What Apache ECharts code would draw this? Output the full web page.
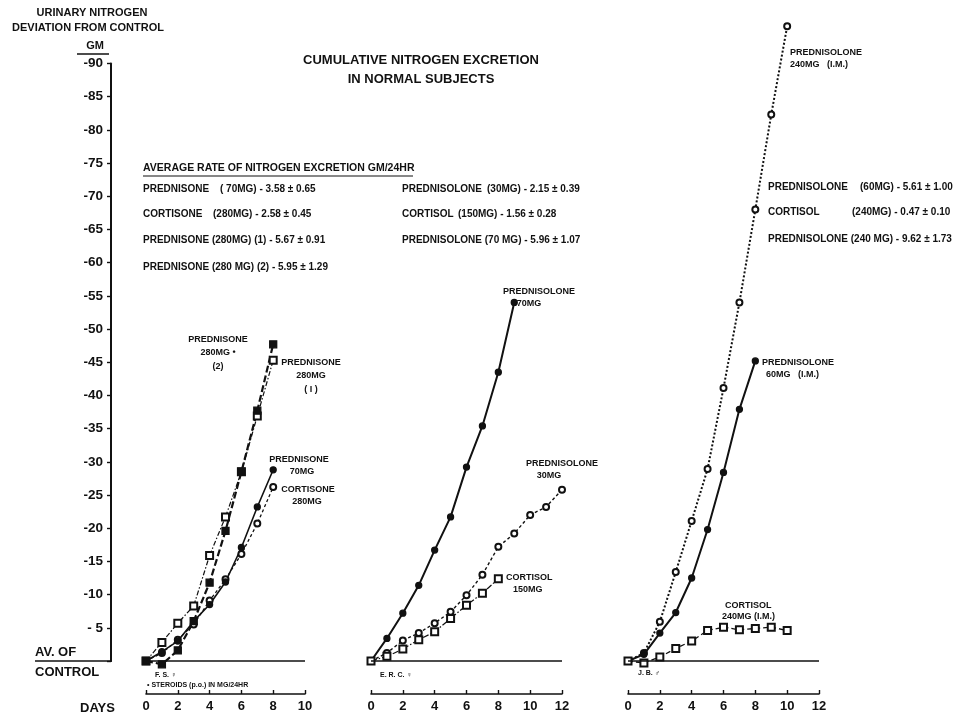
<!DOCTYPE html>
<html>
<head>
<meta charset="utf-8">
<script src="https://cdn.jsdelivr.net/npm/echarts@6/dist/echarts.min.js"></script>
<style>
html,body{margin:0;padding:0;background:#fff;}
#chart{width:967px;height:719px;}
</style>
</head>
<body>
<div id="chart"></div>
<script>
// ---------- DATA ----------
// y-axis ticks (GM deviation from control)
const yTicks = [0,-5,-10,-15,-20,-25,-30,-35,-40,-45,-50,-55,-60,-65,-70,-75,-80,-85,-90];
// x-axis tick labels (days)
const daysTicks1 = [0,2,4,6,8,10];
const daysTicks2 = [0,2,4,6,8,10,12];

// Panel 1 (F.S. female)
const days1 = [0,1,2,3,4,5,6,7,8];
const prednisone280_2 = [0, 0.5, -1.6, -6.0, -11.8, -19.6, -28.5, -37.7, -47.7];
const prednisone280_1 = [0, -2.8, -5.7, -8.3, -15.9, -21.7, -28.5, -36.9, -45.3];
const prednisone70   = [0, -1.4, -3.0, -6.0, -8.5, -11.9, -17.1, -23.2, -28.8];
const cortisone280   = [0, -1.2, -3.2, -5.5, -9.1, -12.3, -16.1, -20.7, -26.2];

// Panel 2 (E.R.C. female)
const days2a = [0,1,2,3,4,5,6,7,8,9];
const prednisolone70 = [0, -3.4, -7.2, -11.4, -16.7, -21.7, -29.2, -35.4, -43.5, -54.0];
const days2b = [0,1,2,3,4,5,6,7,8,9,10,11,12];
const prednisolone30 = [0, -1.2, -3.1, -4.2, -5.7, -7.4, -9.9, -13.0, -17.2, -19.2, -22.0, -23.2, -25.8];
const days2c = [0,1,2,3,4,5,6,7,8];
const cortisol150 = [0, -0.7, -1.8, -3.2, -4.4, -6.4, -8.4, -10.2, -12.4];

// Panel 3 (J.B. male)
const days3a = [0,1,2,3,4,5,6,7,8,9,10];
const prednisolone240 = [0, -1.2, -5.9, -13.4, -21.1, -28.9, -41.1, -54.0, -68.0, -82.3, -95.6];
const days3b = [0,1,2,3,4,5,6,7,8];
const prednisolone60 = [0, -1.0, -4.2, -7.3, -12.5, -19.8, -28.4, -37.9, -45.2];
const days3c = [0,1,2,3,4,5,6,7,8,9,10];
const cortisol240 = [0, 0.3, -0.6, -1.9, -3.0, -4.6, -5.1, -4.7, -4.9, -5.1, -4.6];

// ---------- CHART ----------
const INK = '#111';
const FONT = 'Liberation Sans';
const pairs = (xs, ys) => xs.map((x, i) => [x, ys[i]]);

const chart = echarts.init(document.getElementById('chart'), null, {renderer: 'canvas'});

const PANEL_TOP = 23.6, BOTTOM = 58;
const grids = [
  {left: 111, width: 20, top: 63.4, bottom: BOTTOM},
  {left: 146, width: 159, top: PANEL_TOP, bottom: BOTTOM},
  {left: 371, width: 191, top: PANEL_TOP, bottom: BOTTOM},
  {left: 628, width: 191, top: PANEL_TOP, bottom: BOTTOM}
];

function panelX(idx, max) {
  return {
    type: 'value', gridIndex: idx, min: 0, max: max, interval: 2,
    position: 'bottom', offset: 33,
    axisLine: {show: true, onZero: false, lineStyle: {color: INK, width: 1.6}},
    axisTick: {show: true, inside: true, length: 4, lineStyle: {color: INK, width: 1.4}},
    axisLabel: {color: INK, fontFamily: FONT, fontWeight: 'bold', fontSize: 13, margin: 6,
      formatter: v => String(v)},
    splitLine: {show: false}
  };
}
function panelY(idx) {
  return {type: 'value', gridIndex: idx, min: -96, max: 0, inverse: true, show: false,
    axisLine: {show: false}, splitLine: {show: false}};
}

const xAxis = [
  {type: 'value', gridIndex: 0, min: 0, max: 1, show: false},
  panelX(1, daysTicks1[daysTicks1.length - 1]),
  panelX(2, daysTicks2[daysTicks2.length - 1]),
  panelX(3, daysTicks2[daysTicks2.length - 1])
];
const yAxis = [
  {type: 'value', gridIndex: 0, min: yTicks[yTicks.length - 1], max: yTicks[0], interval: 5,
   inverse: true, position: 'left',
   axisLine: {show: true, onZero: false, lineStyle: {color: INK, width: 2}},
   axisTick: {show: true, length: 4, lineStyle: {color: INK, width: 1.4}},
   axisLabel: {color: INK, fontFamily: FONT, fontWeight: 'bold', fontSize: 13.5, margin: 8,
     formatter: v => v === 0 ? '' : (v > -10 ? '- ' + (-v) : String(v))},
   splitLine: {show: false}},
  panelY(1), panelY(2), panelY(3)
];

function ser(idx, xs, ys, symbol, size, lineType, width, extra) {
  const s = {
    type: 'line', xAxisIndex: idx, yAxisIndex: idx,
    data: pairs(xs, ys), symbol: symbol, symbolSize: size, smooth: false,
    showAllSymbol: true, clip: false, z: 3,
    lineStyle: {color: INK, width: width, type: lineType},
    itemStyle: {color: INK, borderColor: INK, borderWidth: 1.3},
    emphasis: {disabled: true}, animation: false
  };
  return Object.assign(s, extra || {});
}
const baseLine = {
  markLine: {silent: true, symbol: 'none', label: {show: false},
    lineStyle: {color: INK, width: 1.6, type: 'solid'}, data: [{yAxis: 0}]}
};

const series = [
  // dummy for y-axis grid
  {type: 'line', xAxisIndex: 0, yAxisIndex: 0, data: [], silent: true},
  // panel 1
  ser(1, days1, cortisone280, 'emptyCircle', 6, [3, 2.5], 1.3, baseLine),
  ser(1, days1, prednisone70, 'circle', 6, 'solid', 1.6),
  ser(1, days1, prednisone280_1, 'emptyRect', 7, [5, 2, 1.5, 2], 1.2),
  ser(1, days1, prednisone280_2, 'rect', 7, [7, 3], 2.2),
  // panel 2
  ser(2, days2a, prednisolone70, 'circle', 6, 'solid', 2, baseLine),
  ser(2, days2b, prednisolone30, 'emptyCircle', 6, [3, 2.5], 1.4),
  ser(2, days2c, cortisol150, 'emptyRect', 7, [6, 2, 1.5, 2], 1.2),
  // panel 3
  ser(3, days3a, prednisolone240, 'emptyCircle', 6, [2, 2], 2, baseLine),
  ser(3, days3b, prednisolone60, 'circle', 6, 'solid', 2),
  ser(3, days3c, cortisol240, 'emptyRect', 7, [5, 3], 1.3)
];

function txt(x, y, text, opt) {
  opt = opt || {};
  return {type: 'text', x: x, y: y, silent: true, z: 10,
    style: {text: text, fill: INK, fontFamily: FONT, fontWeight: 'bold',
      fontSize: opt.size || 10, align: opt.align || 'left', verticalAlign: 'middle',
      lineHeight: opt.lh || 12}};
}
function hline(x1, x2, y, w) {
  return {type: 'line', silent: true, z: 10,
    shape: {x1: x1, y1: y, x2: x2, y2: y}, style: {stroke: INK, lineWidth: w || 1.4}};
}

const graphic = [
  // y-axis title
  txt(92, 13, 'URINARY NITROGEN', {size: 11, align: 'center'}),
  txt(88, 28, 'DEVIATION FROM CONTROL', {size: 11, align: 'center'}),
  txt(95, 46, 'GM', {size: 11, align: 'center'}),
  hline(77, 109, 54, 1.5),
  // zero label
  txt(35, 652, 'AV. OF', {size: 13}),
  hline(35, 112, 661, 1.6),
  txt(35, 672, 'CONTROL', {size: 13}),
  txt(80, 708, 'DAYS', {size: 13}),
  // main title
  txt(421, 60, 'CUMULATIVE NITROGEN EXCRETION', {size: 13, align: 'center'}),
  txt(421, 79, 'IN NORMAL SUBJECTS', {size: 13, align: 'center'}),
  // averages table
  txt(143, 168, 'AVERAGE RATE OF NITROGEN EXCRETION GM/24HR', {size: 10.5}),
  hline(143, 413, 176, 1.2),
  txt(143, 189, 'PREDNISONE'), txt(220, 189, '( 70MG) - 3.58 ± 0.65'),
  txt(143, 214, 'CORTISONE'), txt(213, 214, '(280MG) - 2.58 ± 0.45'),
  txt(143, 240, 'PREDNISONE (280MG) (1) - 5.67 ± 0.91'),
  txt(143, 267, 'PREDNISONE (280 MG) (2) - 5.95 ± 1.29'),
  txt(402, 189, 'PREDNISOLONE'), txt(487, 189, '(30MG) - 2.15 ± 0.39'),
  txt(402, 214, 'CORTISOL'), txt(458, 214, '(150MG) - 1.56 ± 0.28'),
  txt(402, 240, 'PREDNISOLONE (70 MG) - 5.96 ± 1.07'),
  txt(768, 187, 'PREDNISOLONE'), txt(860, 187, '(60MG) - 5.61 ± 1.00'),
  txt(768, 212, 'CORTISOL'), txt(852, 212, '(240MG) - 0.47 ± 0.10'),
  txt(768, 239, 'PREDNISOLONE (240 MG) - 9.62 ± 1.73'),
  // series labels panel 1
  txt(218, 340, 'PREDNISONE', {size: 9, align: 'center'}),
  txt(218, 353, '280MG •', {size: 9, align: 'center'}),
  txt(218, 367, '(2)', {size: 9, align: 'center'}),
  txt(311, 363, 'PREDNISONE', {size: 9, align: 'center'}),
  txt(311, 376, '280MG', {size: 9, align: 'center'}),
  txt(311, 390, '( I )', {size: 9, align: 'center'}),
  txt(299, 460, 'PREDNISONE', {size: 9, align: 'center'}),
  txt(302, 472, '70MG', {size: 9, align: 'center'}),
  txt(308, 490, 'CORTISONE', {size: 9, align: 'center'}),
  txt(307, 502, '280MG', {size: 9, align: 'center'}),
  // panel 2
  txt(539, 292, 'PREDNISOLONE', {size: 9, align: 'center'}),
  txt(529, 304, '70MG', {size: 9, align: 'center'}),
  txt(562, 464, 'PREDNISOLONE', {size: 9, align: 'center'}),
  txt(549, 476, '30MG', {size: 9, align: 'center'}),
  txt(506, 578, 'CORTISOL', {size: 9}),
  txt(513, 590, '150MG', {size: 9}),
  // panel 3
  txt(790, 53, 'PREDNISOLONE', {size: 9}),
  txt(790, 65, '240MG   (I.M.)', {size: 9}),
  txt(762, 363, 'PREDNISOLONE', {size: 9}),
  txt(766, 375, '60MG   (I.M.)', {size: 9}),
  txt(725, 606, 'CORTISOL', {size: 9}),
  txt(722, 617, '240MG (I.M.)', {size: 9}),
  // subject notes
  txt(155, 675, 'F. S. ♀', {size: 7}),
  txt(147, 685, '• STEROIDS (p.o.) IN MG/24HR', {size: 7}),
  txt(380, 675, 'E. R. C. ♀', {size: 7}),
  txt(638, 673, 'J. B. ♂', {size: 7})
];

chart.setOption({
  backgroundColor: '#fff',
  animation: false,
  grid: grids,
  xAxis: xAxis,
  yAxis: yAxis,
  series: series,
  graphic: graphic
});
</script>
</body>
</html>
